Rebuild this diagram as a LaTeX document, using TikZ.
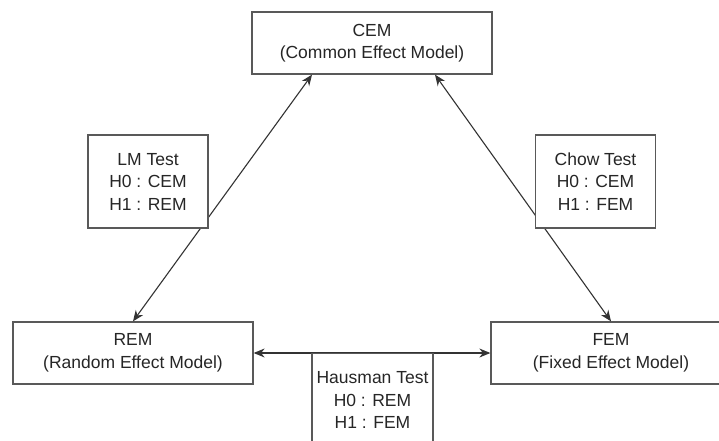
\documentclass[tikz,border=0pt]{standalone}
\usepackage{fontspec}
\setmainfont{Liberation Sans}
\usetikzlibrary{arrows.meta}
\begin{document}
\begin{tikzpicture}[x=1pt,y=-1pt,
  box/.style={draw=black!65, line width=1.3pt, fill=white, align=center, inner sep=0pt,
    font=\fontsize{17.5}{22.5}\selectfont, text=black!85},
  model/.style={box, minimum width=240pt, minimum height=62pt},
  testbox/.style={box, minimum width=120pt, minimum height=93pt},
  link/.style={draw=black!80, line width=1.1pt,
    {Stealth[length=11pt,width=9pt]}-{Stealth[length=11pt,width=9pt]}}]
\clip (0,0) rectangle (719,441);
\fill[white] (0,0) rectangle (719,441);
\node[model] (cem) at (372,43) {CEM\\(Common Effect Model)};
\node[model] (rem) at (133,353) {REM\\(Random Effect Model)};
\node[model] (fem) at (611,353) {FEM\\(Fixed Effect Model)};
\coordinate (cemL) at ([xshift=-60pt]cem.south);
\coordinate (cemR) at ([xshift=63pt]cem.south);
\draw[link] (cemL) -- (rem.north);
\draw[link] (cemR) -- (fem.north);
\draw[link] (rem.east) -- (fem.west);
\node[testbox] (lm) at (148,181.5) {LM Test\\H0 : CEM\\H1 : REM};
\node[testbox] (chow) at (595.5,181.5) {Chow Test\\H0 : CEM\\H1 : FEM};
\node[testbox, anchor=north, minimum width=121pt] (haus) at (372.5,353) {Hausman Test\\H0 : REM\\H1 : FEM};
\end{tikzpicture}
\end{document}
